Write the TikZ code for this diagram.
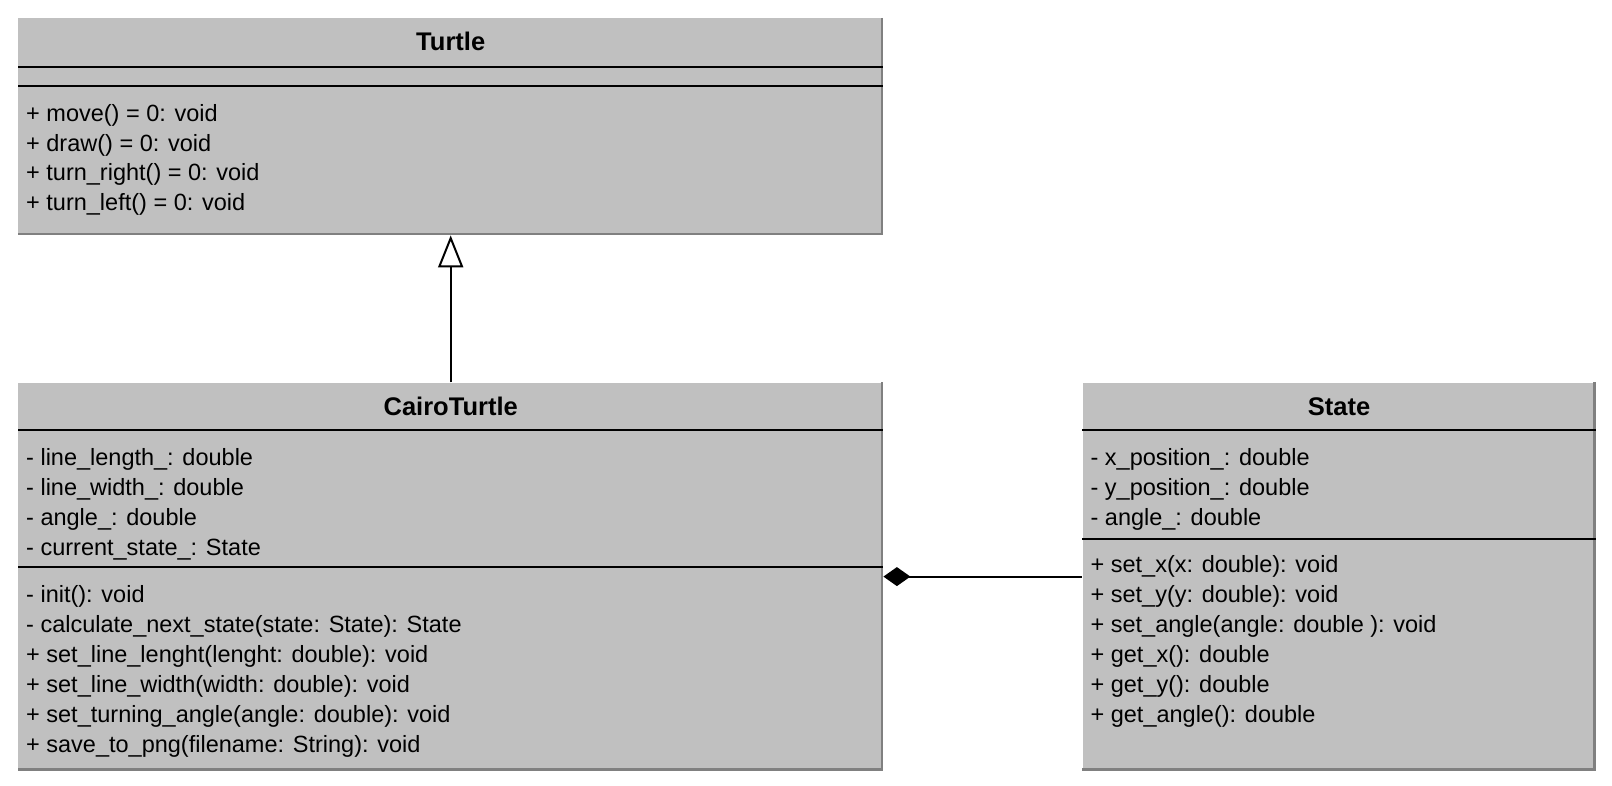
\documentclass[tikz,border=0pt]{standalone}
\usepackage{fontspec}
\setmainfont{Liberation Sans}
\usepackage{tikz}
\usetikzlibrary{arrows.meta,positioning}
\definecolor{umlgray}{HTML}{C0C0C0}
\definecolor{umldark}{HTML}{808080}
\newcommand{\umlsize}{\fontsize{23.5}{29.5}\selectfont}
\newcommand{\umltitle}{\fontsize{25.5}{29.5}\selectfont}
\tikzset{
  classbox/.style = {rectangle, fill=umlgray, inner sep=0pt},% corps de classe
  classname/.style = {font=\umltitle\bfseries, inner sep=0pt, anchor=base},
  member/.style = {font=\umlsize, inner sep=0pt, anchor=north west,
    text height=21pt, text depth=8.5pt},% une ligne
  sepline/.style = {line width=2pt, black},
  shadowedge/.style = {line width=2.5pt, umldark},
  inherit/.style = {-{Triangle[open, length=32pt, width=25pt, line width=2pt]},
    line width=2pt},
  compose/.style = {{Diamond[length=27pt, width=19pt]}-, line width=2pt}
}

\begin{document}
\begin{tikzpicture}
        \useasboundingbox (0,0) rectangle (1612pt,-786pt);

        % les trois classes
        \node [classbox, minimum width=865pt, minimum height=217pt, anchor=north west] (turtle) at (18pt,-18pt) {};
        \node [classbox, minimum width=865pt, minimum height=388pt, below=147pt of turtle] (cairo) {};
        \node [classbox, minimum width=513pt, minimum height=388pt, right=199pt of cairo] (state) {};

        \foreach \b in {turtle,cairo,state}
          \draw [shadowedge] ([xshift=-1.25pt]\b.north east) -- ([shift={(-1.25pt,1.25pt)}]\b.south east) -- ([yshift=1.25pt]\b.south west);

        % Turtle
        \node [classname] (turtlename) at ([yshift=-33pt]turtle.north) {Turtle};
        \draw [sepline] ([yshift=-49pt]turtle.north west) coordinate (ts1) -- ([yshift=-49pt]turtle.north east);
        \draw [sepline] ([yshift=-68pt]turtle.north west) coordinate (ts2) -- ([yshift=-68pt]turtle.north east);
        \node [member] (t1) at ([shift={(8pt,-14pt)}]ts2) {+ move() = 0: void};
        \node [member, below=0pt of t1.south west, anchor=north west] (t2) {+ draw() = 0: void};
        \node [member, below=0pt of t2.south west, anchor=north west] (t3) {+ turn\_right() = 0: void};
        \node [member, below=0pt of t3.south west, anchor=north west] (t4) {+ turn\_left() = 0: void};

        % CairoTurtle
        \node [classname] (caironame) at ([yshift=-33pt]cairo.north) {CairoTurtle};
        \draw [sepline] ([yshift=-48pt]cairo.north west) coordinate (cs1) -- ([yshift=-48pt]cairo.north east);
        \draw [sepline] ([yshift=-185pt]cairo.north west) coordinate (cs2) -- ([yshift=-185pt]cairo.north east);
        \node [member] (ca1) at ([shift={(8pt,-14pt)}]cs1) {- line\_length\_: double};
        \node [member, below=0pt of ca1.south west, anchor=north west] (ca2) {- line\_width\_: double};
        \node [member, below=0pt of ca2.south west, anchor=north west] (ca3) {- angle\_: double};
        \node [member, below=0pt of ca3.south west, anchor=north west] (ca4) {- current\_state\_: State};
        \node [member] (cm1) at ([shift={(8pt,-14pt)}]cs2) {- init(): void};
        \node [member, below=0pt of cm1.south west, anchor=north west] (cm2) {- calculate\_next\_state(state: State): State};
        \node [member, below=0pt of cm2.south west, anchor=north west] (cm3) {+ set\_line\_lenght(lenght: double): void};
        \node [member, below=0pt of cm3.south west, anchor=north west] (cm4) {+ set\_line\_width(width: double): void};
        \node [member, below=0pt of cm4.south west, anchor=north west] (cm5) {+ set\_turning\_angle(angle: double): void};
        \node [member, below=0pt of cm5.south west, anchor=north west] (cm6) {+ save\_to\_png(filename: String): void};

        % State
        \node [classname] (statename) at ([yshift=-33pt]state.north) {State};
        \draw [sepline] ([yshift=-48pt]state.north west) coordinate (ss1) -- ([yshift=-48pt]state.north east);
        \draw [sepline] ([yshift=-157pt]state.north west) coordinate (ss2) -- ([yshift=-157pt]state.north east);
        \node [member] (sa1) at ([shift={(8pt,-14pt)}]ss1) {- x\_position\_: double};
        \node [member, below=0pt of sa1.south west, anchor=north west] (sa2) {- y\_position\_: double};
        \node [member, below=0pt of sa2.south west, anchor=north west] (sa3) {- angle\_: double};
        \node [member] (sm1) at ([shift={(8pt,-12pt)}]ss2) {+ set\_x(x: double): void};
        \node [member, below=0pt of sm1.south west, anchor=north west] (sm2) {+ set\_y(y: double): void};
        \node [member, below=0pt of sm2.south west, anchor=north west] (sm3) {+ set\_angle(angle: double ): void};
        \node [member, below=0pt of sm3.south west, anchor=north west] (sm4) {+ get\_x(): double};
        \node [member, below=0pt of sm4.south west, anchor=north west] (sm5) {+ get\_y(): double};
        \node [member, below=0pt of sm5.south west, anchor=north west] (sm6) {+ get\_angle(): double};

        % liens
        \draw [inherit] (cairo) -- (turtle);
        \draw [compose] (cairo) -- (state);

        \end{tikzpicture}
\end{document}
